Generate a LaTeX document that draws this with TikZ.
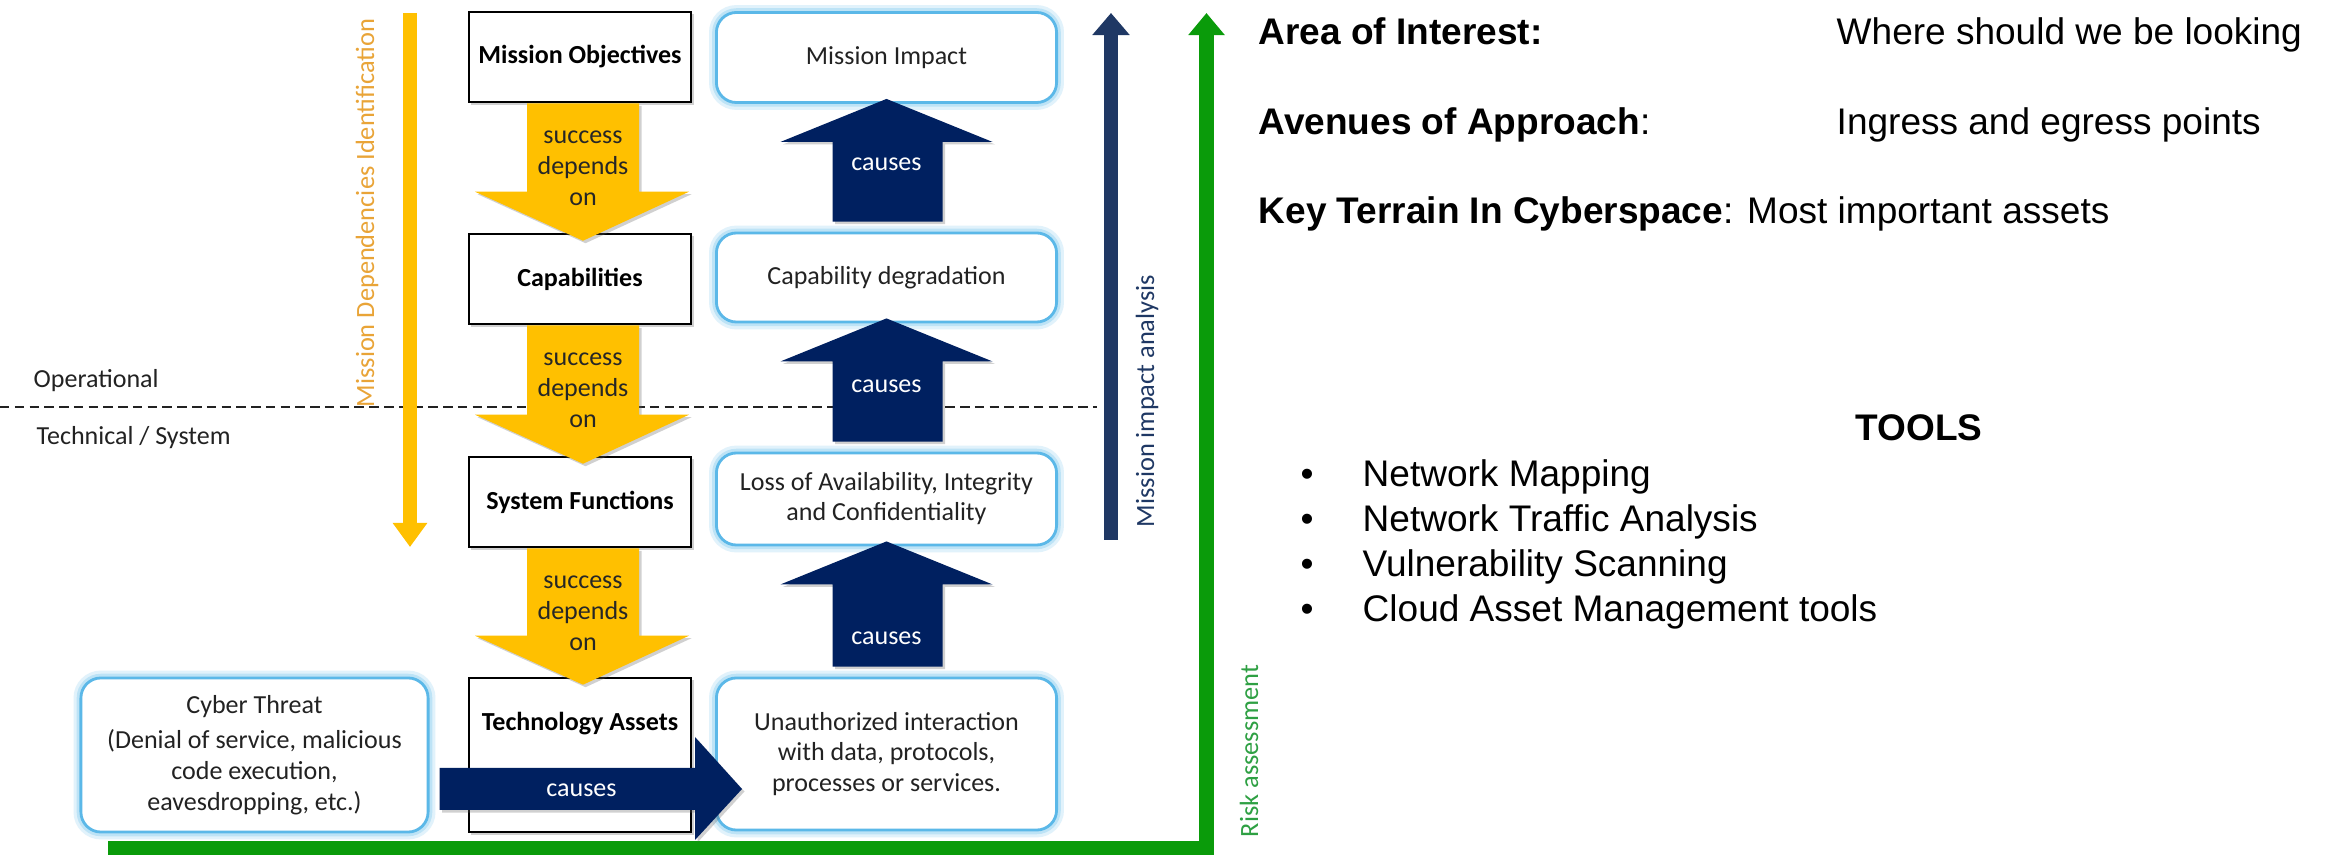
\documentclass[tikz,border=0pt]{standalone}
\usepackage{fontspec}
\setmainfont{Carlito}
\newfontfamily\arialf{Liberation Sans}
\usetikzlibrary{calc,arrows.meta,shadows}
\definecolor{gold}{HTML}{FFC000}
\definecolor{navyA}{HTML}{002060}
\definecolor{navyB}{HTML}{1F3864}
\definecolor{greenA}{HTML}{0A9B0A}
\definecolor{greenT}{HTML}{2EA043}
\definecolor{orangeT}{HTML}{E9A437}
\definecolor{glowblue}{HTML}{5BB8E8}
\definecolor{inkgray}{HTML}{222222}
\tikzset{
  softshadow/.style={drop shadow={shadow xshift=0.025cm,shadow yshift=-0.025cm,opacity=0.3,fill=black!60}},
  lbox/.style={draw=black, line width=0.7pt, fill=white, minimum width=2.22cm, minimum height=0.9cm,
    inner sep=0pt, font=\fontsize{7.4}{8.8}\selectfont\bfseries, text=black, softshadow},
  rbox/.style={draw=glowblue, line width=0.8pt, fill=white, rounded corners=0.2cm, minimum width=3.4cm,
    inner sep=0pt, align=center, font=\fontsize{7.4}{8.55}\selectfont, text=inkgray,
    preaction={draw=glowblue!18, line width=4.2pt},
    preaction={draw=glowblue!40, line width=2.4pt}},
  yarr/.style={fill=gold, softshadow},
  narr/.style={fill=navyA, softshadow},
  ytxt/.style={align=center, inner sep=0pt, font=\fontsize{7.4}{8.8}\selectfont, text=black!85},
  ntxt/.style={inner sep=0pt, font=\fontsize{7.4}{8.8}\selectfont, text=white},
  sidetxt/.style={inner sep=0pt, anchor=base west, font=\fontsize{7.4}{8.8}\selectfont, text=inkgray},
  vlabel/.style={rotate=90, inner sep=0pt, font=\fontsize{7.5}{9}\selectfont},
  rtxt/.style={inner sep=0pt, anchor=base west, font=\arialf\fontsize{10.53}{12.6}\selectfont, text=black},
  thinarrow/.style={line width=0.14cm},
}
% yellow block arrow from node #1 down to node #2, text node #3
\newcommand{\ydown}[3]{%
  \fill[yarr] ($(#1.south)+(-53,0)$) -- ($(#1.south)+(59,0)$) -- ($(#2.north)+(59,-41)$)
    -- ($(#2.north)+(109,-41)$) -- ($(#2.north)+(3,8)$) -- ($(#2.north)+(-105,-41)$)
    -- ($(#2.north)+(-53,-41)$) -- cycle;
  \node[ytxt] (#3) at ($(#1.south)+(3,65)$) {success\\depends\\on};}
% navy block arrow from node #2 up to node #1, text node #3 at offset #4 above #2
\newcommand{\nup}[4]{%
  \fill[narr] ($(#2.north)+(-54,-10)$) -- ($(#2.north)+(56,-10)$) -- ($(#1.south)+(56,38)$)
    -- ($(#1.south)+(106,38)$) -- ($(#1.south)+(0,-5)$) -- ($(#1.south)+(-106,38)$)
    -- ($(#1.south)+(-54,38)$) -- cycle;
  \node[ntxt] (#3) at ($(#2.north)+(0,#4)$) {causes};}
\begin{document}
\begin{tikzpicture}[x=0.01cm,y=-0.01cm]
\useasboundingbox[fill=white] (0,0) rectangle (2326,855);

% dashed separation line
\coordinate (dashL) at (0,407);
\coordinate (dashR) at (1097,407);
\draw[line width=0.65pt, inkgray, dash pattern=on 2.7pt off 1.5pt] (dashL) -- (dashR);

% side labels
\node[sidetxt] (oper) at (33,388) {Operational};
\node[sidetxt] (techsys) at (36,445) {Technical / System};

% long thin arrows
\coordinate (ydTop) at (410,13);
\coordinate (ydEnd) at (410,547);
\draw[thinarrow, gold, -{Triangle[length=0.24cm,width=0.33cm]}] (ydTop) -- (ydEnd);
\coordinate (nvBot) at (1111,540);
\coordinate (nvTop) at (1111,13);
\draw[thinarrow, navyB, -{Triangle[length=0.22cm,width=0.36cm]}] (nvBot) -- (nvTop);
\coordinate (grStart) at (108,849);
\coordinate (grCorner) at (1206.5,849);
\coordinate (grTop) at (1206.5,13);
\draw[line width=0.15cm, greenA, line join=miter, -{Triangle[length=0.22cm,width=0.35cm]}] (grStart) -- (grCorner) -- (grTop);

% rotated labels
\node[vlabel, text=orangeT] (mdi) at (367,213) {Mission Dependencies Identification};
\node[vlabel, text=navyB] (mia) at (1147,401) {Mission impact analysis};
\node[vlabel, text=greenT] (risk) at (1249,751) {Risk assessment};

% left column boxes
\node[lbox] (mo) at (580,57) {Mission Objectives};
\node[lbox] (cap) at (580,279) {Capabilities};
\node[lbox] (sf) at (580,502) {System Functions};
\node[lbox, minimum height=1.54cm] (ta) at (580,755) {};
\node[inner sep=0pt, font=\fontsize{7.4}{8.8}\selectfont\bfseries] (tatxt) at ($(ta.north)+(0,47)$) {Technology Assets};

% right column boxes
\node[rbox, minimum height=0.9cm] (mi) at (886.5,57.5) {Mission Impact};
\node[rbox, minimum height=0.89cm] (cd) at (886.5,277.5) {Capability degradation};
\node[rbox, minimum height=0.92cm] (loss) at (886.5,499) {Loss of Availability, Integrity\\and Confidentiality};
\node[rbox, minimum height=1.52cm] (ui) at (886.5,754) {Unauthorized interaction\\with data, protocols,\\processes or services.};

% cyber threat
\node[rbox, minimum width=3.47cm, minimum height=1.54cm, font=\fontsize{7.4}{8.8}\selectfont] (ct) at (254.5,755)
  {Cyber Threat\\[1.3pt](Denial of service, malicious\\code execution,\\eavesdropping, etc.)};

% yellow block arrows
\ydown{mo}{cap}{sd1}
\ydown{cap}{sf}{sd2}
\ydown{sf}{ta}{sd3}

% navy block arrows
\nup{mi}{cd}{ca1}{-67}
\nup{cd}{loss}{ca2}{-65}
\nup{loss}{ui}{ca3}{-38}

% horizontal navy arrow
\fill[narr] ($(ct.east)+(10,13)$) -- ($(ui.west)+(-20,14)$) -- ($(ui.west)+(-20,-17)$)
  -- ($(ui.west)+(27,35)$) -- ($(ui.west)+(-20,86)$) -- ($(ui.west)+(-20,56)$)
  -- ($(ct.east)+(10,55)$) -- cycle;
\node[ntxt] (ca4) at ($(ct.east)+(152,35)$) {causes};

% right-hand text
\node[rtxt] (aoi) at (1258,45) {\bfseries Area of Interest:};
\node[rtxt] (aoiv) at (1836,45) {Where should we be looking};
\node[rtxt] (aoa) at (1258,135) {\bfseries Avenues of Approach\mdseries:};
\node[rtxt] (aoav) at (1836,135) {Ingress and egress points};
\node[rtxt] (kt) at (1258,224) {\bfseries Key Terrain In Cyberspace\mdseries: Most important assets};
\node[rtxt, anchor=base] (tools) at (1919,441) {\bfseries TOOLS};
\foreach \t [count=\i from 0] in {Network Mapping, Network Traffic Analysis, Vulnerability Scanning, Cloud Asset Management tools} {
  \node[rtxt, anchor=base] (bul\i) at (1307,487+44.7*\i) {•};
  \node[rtxt] (item\i) at (1362,487+44.7*\i) {\t};
}
\end{tikzpicture}
\end{document}
